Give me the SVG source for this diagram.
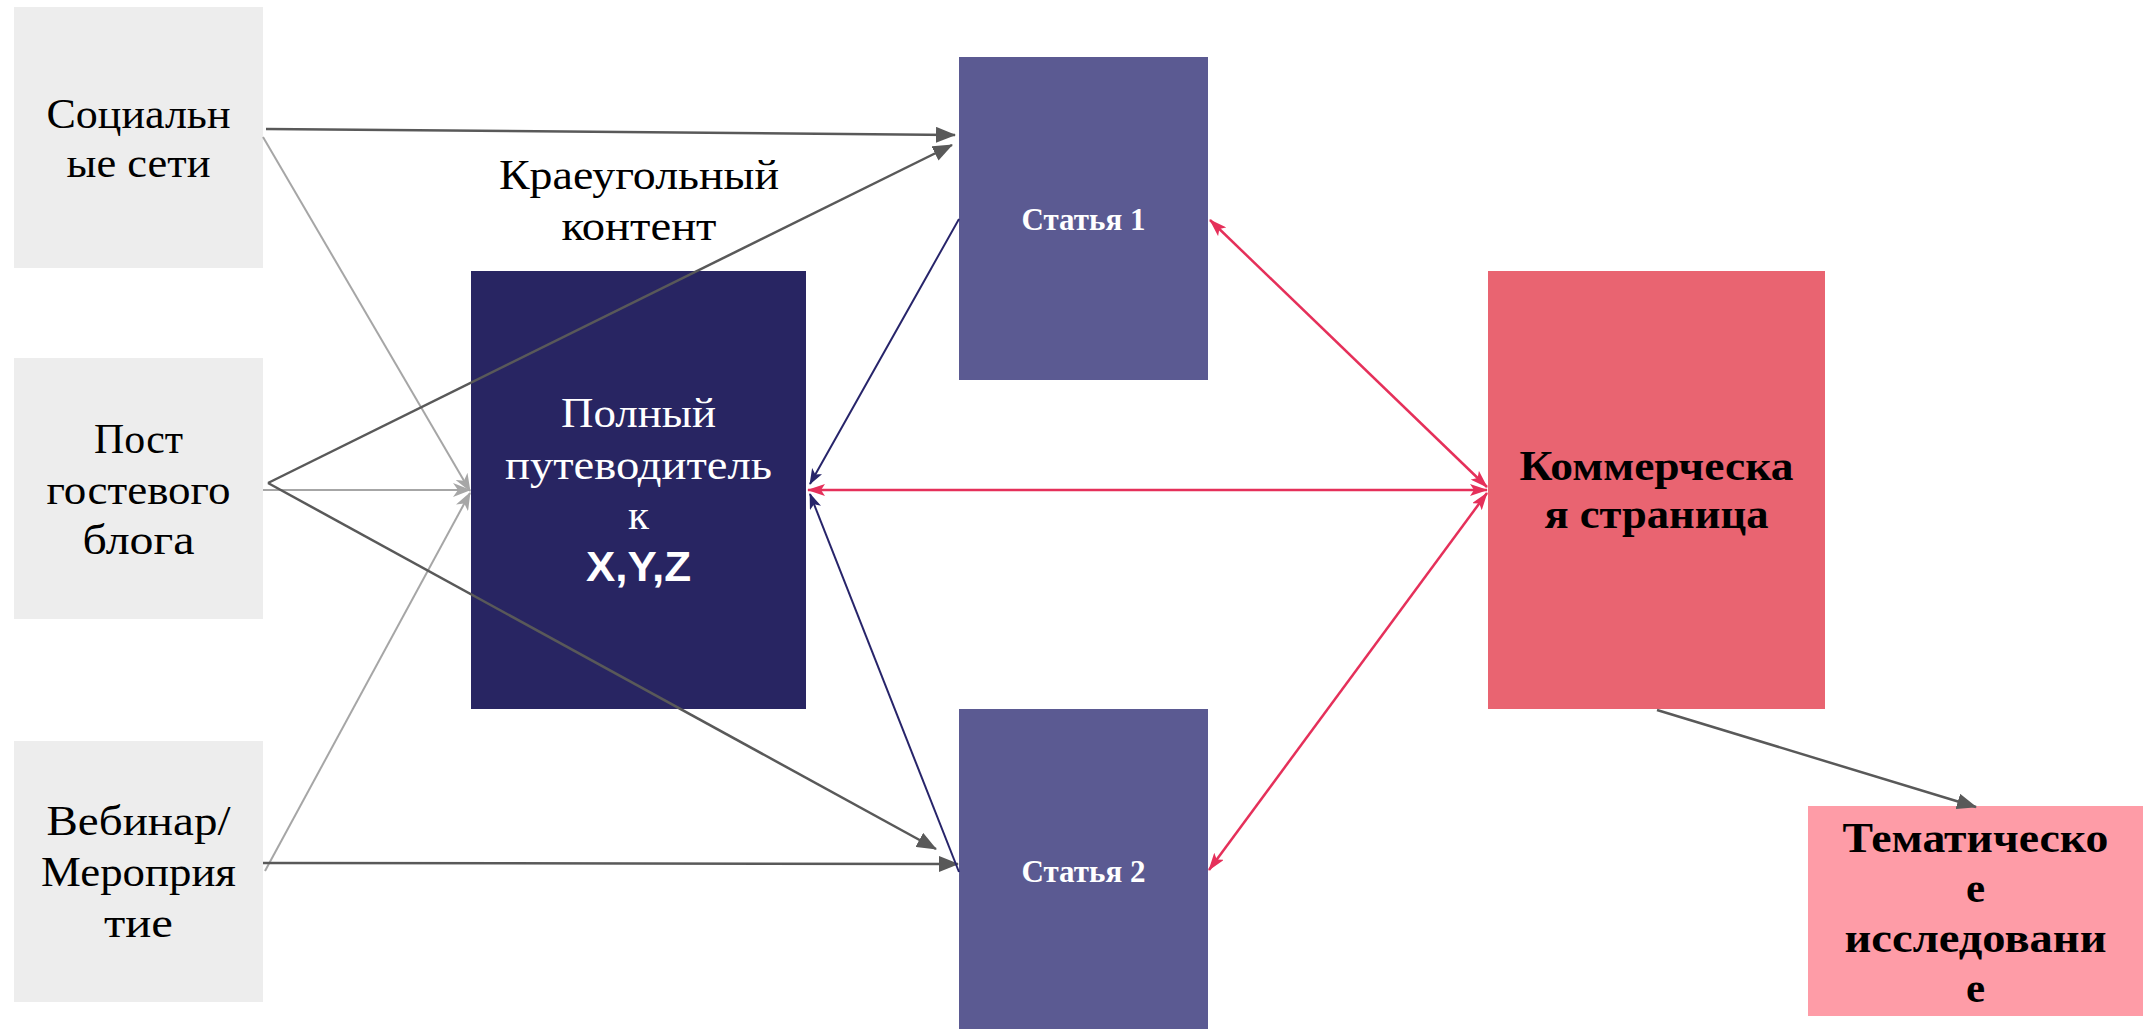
<svg xmlns="http://www.w3.org/2000/svg" width="2143" height="1029" viewBox="0 0 2143 1029">
<style>
.src{fill:#ededed}
.lbl{font-family:"Liberation Serif","DejaVu Serif",serif;font-size:43px;fill:#000;text-anchor:middle}
.wlbl{font-family:"Liberation Serif","DejaVu Serif",serif;font-size:43px;fill:#fff;text-anchor:middle}
.art{font-family:"Liberation Serif","DejaVu Serif",serif;font-size:31px;font-weight:bold;fill:#fff;text-anchor:middle}
.blbl{font-family:"Liberation Serif","DejaVu Serif",serif;font-size:43px;font-weight:bold;fill:#000;text-anchor:middle}
.xyz{font-family:"Liberation Sans","DejaVu Sans",sans-serif;font-size:42px;font-weight:bold;fill:#fff;text-anchor:middle}
.dk{stroke:#595959;stroke-width:2.5;fill:none}
.lt{stroke:#a6a6a6;stroke-width:2;fill:none}
.nv{stroke:#27246a;stroke-width:2;fill:none}
.rd{stroke:#e5305a;stroke-width:2.5;fill:none}
</style>
<defs>
<marker id="aDark" markerUnits="userSpaceOnUse" markerWidth="20" markerHeight="16" refX="19" refY="8" orient="auto"><path d="M0,0 L20,8 L0,16 z" fill="#595959"/></marker>
<marker id="aLight" markerUnits="userSpaceOnUse" markerWidth="18" markerHeight="14" refX="17" refY="7" orient="auto"><path d="M0,0 L18,7 L0,14 L5,7 z" fill="#a6a6a6"/></marker>
<marker id="aRed" markerUnits="userSpaceOnUse" markerWidth="18" markerHeight="12" refX="17" refY="6" orient="auto-start-reverse"><path d="M0,0 L18,6 L0,12 L4,6 z" fill="#e5305a"/></marker>
<marker id="aNavy" markerUnits="userSpaceOnUse" markerWidth="16" markerHeight="12" refX="15" refY="6" orient="auto"><path d="M0,0 L16,6 L0,12 L4,6 z" fill="#27246a"/></marker>
</defs>
<rect width="2143" height="1029" fill="#fff"/>

<g id="social">
<rect class="src" x="14" y="7" width="249" height="261"/>
<text class="lbl" x="138.5" y="128" textLength="184" lengthAdjust="spacingAndGlyphs">Социальн</text>
<text class="lbl" x="138.5" y="177" textLength="144" lengthAdjust="spacingAndGlyphs">ые сети</text>
</g>
<g id="guest">
<rect class="src" x="14" y="358" width="249" height="261"/>
<text class="lbl" x="138.5" y="453" textLength="89" lengthAdjust="spacingAndGlyphs">Пост</text>
<text class="lbl" x="138.5" y="504" textLength="184" lengthAdjust="spacingAndGlyphs">гостевого</text>
<text class="lbl" x="138.5" y="554" textLength="112" lengthAdjust="spacingAndGlyphs">блога</text>
</g>
<g id="webinar">
<rect class="src" x="14" y="741" width="249" height="261"/>
<text class="lbl" x="138.5" y="835" textLength="184" lengthAdjust="spacingAndGlyphs">Вебинар/</text>
<text class="lbl" x="138.5" y="886" textLength="195" lengthAdjust="spacingAndGlyphs">Мероприя</text>
<text class="lbl" x="138.5" y="937" textLength="69" lengthAdjust="spacingAndGlyphs">тие</text>
</g>
<g id="cornerstone-label">
<text class="lbl" x="639" y="189" textLength="280" lengthAdjust="spacingAndGlyphs">Краеугольный</text>
<text class="lbl" x="639" y="240" textLength="155" lengthAdjust="spacingAndGlyphs">контент</text>
</g>
<g id="guide">
<rect x="471" y="271" width="335" height="438" fill="#282562"/>
<text class="wlbl" x="638.5" y="427" textLength="155" lengthAdjust="spacingAndGlyphs">Полный</text>
<text class="wlbl" x="638.5" y="479" textLength="267" lengthAdjust="spacingAndGlyphs">путеводитель</text>
<text class="wlbl" x="638.5" y="529">к</text>
<text class="xyz" x="638.5" y="581" textLength="105" lengthAdjust="spacingAndGlyphs">X,Y,Z</text>
</g>
<g id="article1">
<rect x="959" y="57" width="249" height="323" fill="#5b5a92"/>
<text class="art" x="1083.5" y="230">Статья 1</text>
</g>
<g id="article2">
<rect x="959" y="709" width="249" height="320" fill="#5b5a92"/>
<text class="art" x="1083.5" y="882">Статья 2</text>
</g>
<g id="commercial">
<rect x="1488" y="271" width="337" height="438" fill="#e96471"/>
<text class="blbl" x="1656.5" y="480" textLength="274" lengthAdjust="spacingAndGlyphs">Коммерческа</text>
<text class="blbl" x="1656.5" y="528" textLength="224" lengthAdjust="spacingAndGlyphs">я страница</text>
</g>
<g id="case-study">
<rect x="1808" y="806" width="335" height="210" fill="#fe9ca7"/>
<text class="blbl" x="1975.5" y="852" textLength="266" lengthAdjust="spacingAndGlyphs">Тематическо</text>
<text class="blbl" x="1975.5" y="902">е</text>
<text class="blbl" x="1975.5" y="952" textLength="262" lengthAdjust="spacingAndGlyphs">исследовани</text>
<text class="blbl" x="1975.5" y="1002">е</text>
</g>

<g id="connectors">
<line class="lt" x1="263" y1="137" x2="470" y2="491" marker-end="url(#aLight)"/>
<line class="lt" x1="263" y1="490" x2="470" y2="490" marker-end="url(#aLight)"/>
<line class="lt" x1="265" y1="871" x2="470" y2="493" marker-end="url(#aLight)"/>
<line class="dk" x1="266" y1="129" x2="955" y2="135" marker-end="url(#aDark)"/>
<line class="dk" x1="268" y1="483" x2="952" y2="145" marker-end="url(#aDark)"/>
<line class="dk" x1="268" y1="483" x2="936" y2="849" marker-end="url(#aDark)"/>
<line class="dk" x1="263" y1="863" x2="958" y2="864" marker-end="url(#aDark)"/>
<line class="nv" x1="959" y1="219" x2="810" y2="484" marker-end="url(#aNavy)"/>
<line class="nv" x1="959" y1="872" x2="810" y2="494" marker-end="url(#aNavy)"/>
<line class="rd" x1="808" y1="490" x2="1487" y2="490" marker-start="url(#aRed)" marker-end="url(#aRed)"/>
<line class="rd" x1="1210" y1="220" x2="1487" y2="487" marker-start="url(#aRed)" marker-end="url(#aRed)"/>
<line class="rd" x1="1209" y1="870" x2="1487" y2="493" marker-start="url(#aRed)" marker-end="url(#aRed)"/>
<line class="dk" x1="1657" y1="710" x2="1976" y2="807" marker-end="url(#aDark)"/>
</g>
</svg>
